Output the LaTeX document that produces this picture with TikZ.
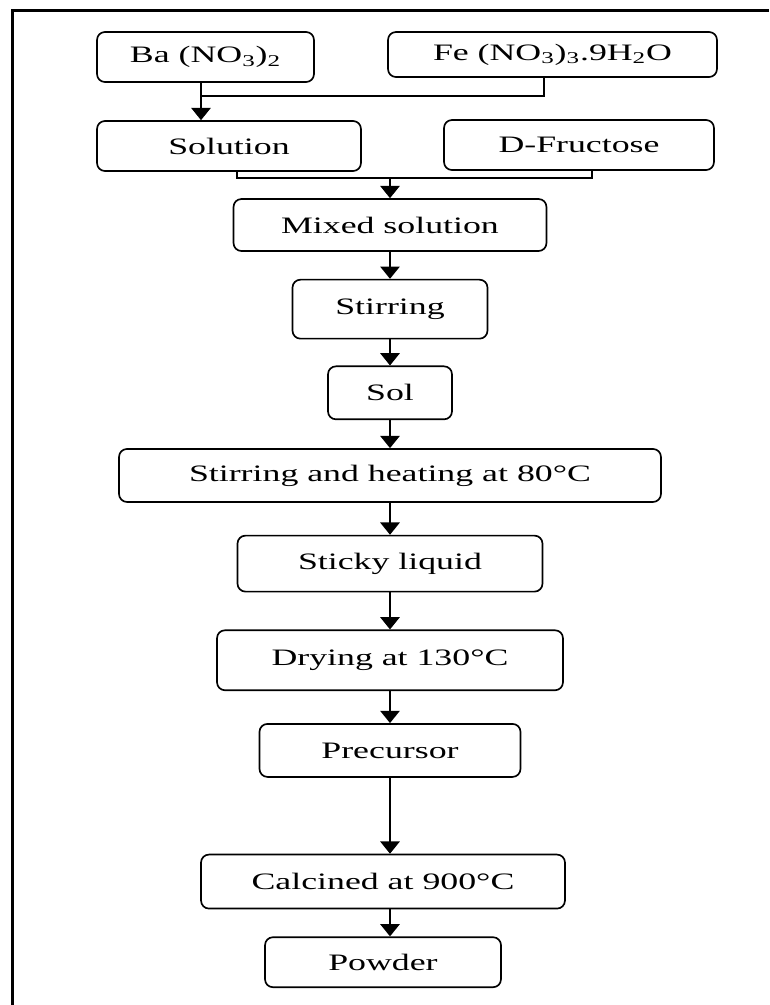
\documentclass[tikz,border=0pt]{standalone}
\usepackage{fontspec}
\setmainfont[FakeStretch=1.52]{Liberation Serif}
\usetikzlibrary{arrows.meta,positioning}

\begin{document}
\begin{tikzpicture}[
    x=0.02cm, y=-0.02cm,
    node distance=0.55cm,
    box/.style={rectangle, draw, rounded corners=4.5pt, line width=0.95pt, inner sep=0pt, align=center, font=\fontsize{13.4}{16}\selectfont},
    arrow/.style={-{Triangle[width=11pt,length=7pt]}, line width=1.15pt},
    link/.style={line width=1.15pt}
]
    \useasboundingbox (0,0) rectangle (769,1005);
    \draw[line width=1.3pt] (12.5,1005) -- (12.5,10.5) -- (769,10.5);

    % starting materials
    \node[box, minimum width=4.34cm, minimum height=1cm] (ba) at (205.5,57) {Ba (NO\textsubscript{3})\textsubscript{2}};
    \node[box, minimum width=6.58cm, minimum height=0.9cm] (fe) at (552.5,54.5) {Fe (NO\textsubscript{3})\textsubscript{3}.9H\textsubscript{2}O};
    \node[box, minimum width=5.28cm, minimum height=1cm] (solution) at (229,146) {Solution};
    \node[box, minimum width=5.4cm, minimum height=1cm] (fructose) at (579,145) {D-Fructose};
    \coordinate (join1) at (201,96);
    \coordinate (join2) at (390,178);

    % main chain
    \node[box, minimum width=6.26cm, minimum height=1.04cm] (mixed) at (390,225) {Mixed solution};
    \node[box, below=0.54cm of mixed, minimum width=3.9cm, minimum height=1.18cm] (stirring) {Stirring};
    \node[box, below=0.52cm of stirring, minimum width=2.48cm, minimum height=1.06cm] (sol) {Sol};
    \node[box, below=0.56cm of sol, minimum width=10.84cm, minimum height=1.06cm] (heating) {Stirring and heating at 80°C};
    \node[box, below=0.64cm of heating, minimum width=6.1cm, minimum height=1.12cm] (sticky) {Sticky liquid};
    \node[box, below=0.74cm of sticky, minimum width=6.92cm, minimum height=1.2cm] (drying) {Drying at 130°C};
    \node[box, below=0.64cm of drying, minimum width=5.22cm, minimum height=1.06cm] (precursor) {Precursor};
    \node[box, below=1.52cm of precursor, xshift=-0.14cm, minimum width=7.28cm, minimum height=1.08cm] (calcined) {Calcined at 900°C};
    \node[box, below=0.54cm of calcined, minimum width=4.72cm, minimum height=1cm] (powder) {Powder};

    \draw[link] ([xshift=-0.17cm]fe.south) |- (join1);
    \draw[arrow] (join1 |- ba.south) -- (join1 |- solution.north);
    \draw[link] ([xshift=0.16cm]solution.south) |- (join2);
    \draw[link] ([xshift=0.26cm]fructose.south) |- (join2);
    \draw[arrow] (join2) -- (mixed);
    \draw[arrow] (mixed) -- (stirring);
    \draw[arrow] (stirring) -- (sol);
    \draw[arrow] (sol) -- (heating);
    \draw[arrow] (heating) -- (sticky);
    \draw[arrow] (sticky) -- (drying);
    \draw[arrow] (drying) -- (precursor);
    \draw[arrow] (precursor.south) -- (precursor |- calcined.north);
    \draw[arrow] (precursor |- calcined.south) -- (precursor |- powder.north);
\end{tikzpicture}
\end{document}
